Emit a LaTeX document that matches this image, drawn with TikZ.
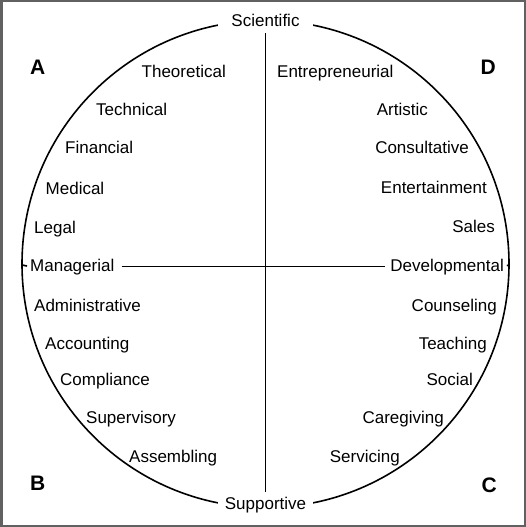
\documentclass[tikz,border=0pt]{standalone}
\usepackage{fontspec}
\setmainfont{Liberation Sans}
\usepackage{tikz}

\begin{document}
\begin{tikzpicture}[
  x=1pt, y=-1pt,
  lbl/.style={inner sep=0pt, font=\fontsize{17}{20}\selectfont},
  lw/.style={lbl, anchor=base west},
  le/.style={lbl, anchor=base east},
  axis/.style={fill=white, inner ysep=4pt, font=\fontsize{17}{20}\selectfont, anchor=base},
  corner/.style={inner sep=0pt, font=\fontsize{21}{24}\selectfont\bfseries},
  ln/.style={line width=1.6pt}
]
\useasboundingbox (0,0) rectangle (526,527);
\draw[line width=2.5pt, black!62] (1.25,1.25) rectangle (524.75,525.75);
% circle
\coordinate (ctr) at (265.5,264);
\draw[ln] (ctr) circle[radius=243.5pt];
\coordinate (cl) at (22,265);
\coordinate (cr) at (509,265);
% poles
\node[axis, inner xsep=13pt] (sci) at (265.5,27) {Scientific};
\node[axis, inner xsep=7pt] (sup) at (265.5,509) {Supportive};
\node[lw] (man) at (30,271) {Managerial};
\node[le] (dev) at (504,271) {Developmental};
\draw[ln, shorten <=2pt] (sci.south) -- (sup.north);
\draw[ln, shorten <=7pt, shorten >=5pt] (man.east) -- (dev.west);
\draw[ln, shorten >=3pt] (cl) -- (man.west);
\draw[ln, shorten >=3pt] (cr) -- (dev.east);
% quadrant A
\node[lw] (theo) at (141.5,77.5) {Theoretical};
\node[lw] (tech) at (96,115.5) {Technical};
\node[lw] (fin) at (65,153.5) {Financial};
\node[lw] (med) at (45.5,194) {Medical};
\node[lw] (leg) at (34,233) {Legal};
% quadrant B
\node[lw] (adm) at (34,311) {Administrative};
\node[lw] (acc) at (45,349) {Accounting};
\node[lw] (com) at (60,385) {Compliance};
\node[lw] (sv) at (86,423) {Supervisory};
\node[lw] (asm) at (129,462) {Assembling};
% quadrant D
\node[lw] (ent) at (277,77.5) {Entrepreneurial};
\node[le] (art) at (428,115.5) {Artistic};
\node[le] (cons) at (469,153.5) {Consultative};
\node[le] (entm) at (487,193.5) {Entertainment};
\node[le] (sal) at (495,232) {Sales};
% quadrant C
\node[le] (cou) at (497,311) {Counseling};
\node[le] (tea) at (487,349) {Teaching};
\node[le] (soc) at (473,385) {Social};
\node[le] (car) at (444,423) {Caregiving};
\node[le] (ser) at (400,462) {Servicing};
% letters
\node[corner, anchor=base west] (qa) at (30,74.5) {A};
\node[corner, anchor=base west] (qb) at (30,490.5) {B};
\node[corner, anchor=base east] (qc) at (497,492.5) {C};
\node[corner, anchor=base east] (qd) at (496,74.5) {D};
\end{tikzpicture}
\end{document}
